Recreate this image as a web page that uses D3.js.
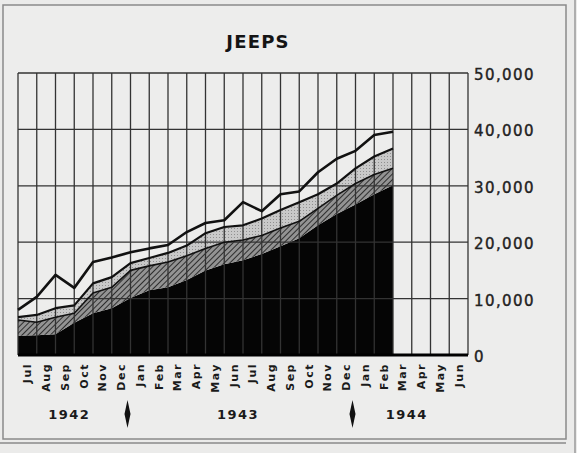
<!DOCTYPE html>
<html>
<head>
<meta charset="utf-8">
<script src="https://cdn.jsdelivr.net/npm/d3@7"></script>
<style>
  body { margin: 0; background: #ebebea; }
  svg { display: block; }
</style>
</head>
<body>
<div id="chart"></div>
<script>
// month categories, Jul 1942 - Jun 1944
var months = ["Jul","Aug","Sep","Oct","Nov","Dec","Jan","Feb","Mar","Apr","May","Jun",
              "Jul","Aug","Sep","Oct","Nov","Dec","Jan","Feb","Mar","Apr","May","Jun"];
var years = ["1942", "1943", "1944"];
var yTicks = [0, 10000, 20000, 30000, 40000, 50000];

// values read at each month line (21 points, start of Jul 1942 .. end of Feb 1944)
var solid   = [3400,3500,3700,5700,7400,8300,10100,11500,12000,13300,15000,16100,16800,17900,19300,20700,23000,25000,26700,28500,30100];
var hatched = [2800,2300,3000,1700,3600,3700,4900,4300,4500,4300,3900,3900,3600,3300,3200,3000,3000,3300,3700,3500,3000];
var dotted  = [500,1300,1600,1400,1700,1800,1300,1400,1600,1800,2700,2700,2600,3000,3200,3400,2500,2100,2700,3200,3500];
var open    = [1300,3200,5900,3100,3800,3500,1900,1700,1400,2400,1800,1200,4100,1300,2800,1900,3900,4400,3100,3800,3000];

var keys = ["solid", "hatched", "dotted", "open"];
var data = solid.map(function(d, i) {
  return {i: i, solid: d, hatched: hatched[i], dotted: dotted[i], open: open[i]};
});

var svg = d3.select("#chart").append("svg").attr("width", 577).attr("height", 453);

var margin = {left: 18, top: 73, right: 109, bottom: 98},
    width = 577 - margin.left - margin.right,
    height = 453 - margin.top - margin.bottom;

var x = d3.scaleLinear().domain([0, months.length]).range([margin.left, margin.left + width]);
var y = d3.scaleLinear().domain([0, 50000]).range([margin.top + height, margin.top]);

var defs = svg.append("defs");
var hp = defs.append("pattern").attr("id", "hatch").attr("patternUnits", "userSpaceOnUse")
    .attr("width", 4).attr("height", 4).attr("patternTransform", "rotate(45)");
hp.append("rect").attr("width", 4).attr("height", 4).attr("fill", "#939393");
hp.append("line").attr("x1", 0).attr("y1", 0).attr("x2", 0).attr("y2", 4)
    .attr("stroke", "#2e2e2e").attr("stroke-width", 2);
var dp = defs.append("pattern").attr("id", "dots").attr("patternUnits", "userSpaceOnUse")
    .attr("width", 3).attr("height", 3);
dp.append("rect").attr("width", 3).attr("height", 3).attr("fill", "#c9c9c9");
dp.append("rect").attr("width", 1).attr("height", 1).attr("fill", "#909090");

// outer frame
svg.append("rect").attr("x", 3).attr("y", 5).attr("width", 563).attr("height", 434)
    .attr("fill", "#ededec").attr("stroke", "#8a8a8a").attr("stroke-width", 1.5);
svg.append("line").attr("x1", 0).attr("x2", 566).attr("y1", 443).attr("y2", 443)
    .attr("stroke", "#8a8a8a").attr("stroke-width", 1.5);
svg.append("line").attr("x1", 575).attr("x2", 575).attr("y1", 0).attr("y2", 453)
    .attr("stroke", "#9a9a9a").attr("stroke-width", 1.5);

svg.append("text").attr("x", 258).attr("y", 48).attr("text-anchor", "middle")
    .attr("font-family", "DejaVu Sans").attr("font-weight", "bold").attr("font-size", 18)
    .attr("letter-spacing", 1.2).attr("fill", "#141414").text("JEEPS");

var stack = d3.stack().keys(keys);
var series = stack(data);
var fills = {solid: "#050505", hatched: "url(#hatch)", dotted: "url(#dots)", open: "none"};

var area = d3.area()
    .x(function(d) { return x(d.data.i); })
    .y0(function(d) { return y(d[0]); })
    .y1(function(d) { return y(d[1]); });

svg.append("g").selectAll("path")
  .data(series.filter(function(s) { return s.key != "open"; }))
  .enter().append("path")
    .attr("d", area)
    .attr("fill", function(s) { return fills[s.key]; });

// grid
var grid = svg.append("g").attr("stroke", "#333").attr("stroke-width", 1.3);
grid.selectAll(".v").data(d3.range(months.length + 1)).enter().append("line")
    .attr("x1", function(d) { return x(d); }).attr("x2", function(d) { return x(d); })
    .attr("y1", y(50000)).attr("y2", y(0));
grid.selectAll(".h").data(yTicks).enter().append("line")
    .attr("x1", x(0)).attr("x2", x(months.length))
    .attr("y1", function(d) { return y(d); }).attr("y2", function(d) { return y(d); });
svg.append("line").attr("x1", x(0)).attr("x2", x(months.length))
    .attr("y1", y(0)).attr("y2", y(0)).attr("stroke", "#000").attr("stroke-width", 3);

// boundary lines
var line = d3.line()
    .x(function(d) { return x(d.data.i); })
    .y(function(d) { return y(d[1]); });
var lineW = {hatched: 1.6, dotted: 2.2, open: 2.6};
svg.append("g").selectAll("path")
  .data(series.filter(function(s) { return s.key != "solid"; }))
  .enter().append("path")
    .attr("d", line)
    .attr("fill", "none")
    .attr("stroke", "#111")
    .attr("stroke-width", function(s) { return lineW[s.key]; })
    .attr("stroke-linejoin", "round");

// y labels on the right
svg.append("g").selectAll("text").data(yTicks).enter().append("text")
    .attr("x", x(months.length) + 6)
    .attr("y", function(d) { return y(d) + 7; })
    .attr("font-family", "DejaVu Sans").attr("font-size", 15).attr("letter-spacing", 1.4)
    .attr("stroke", "#222").attr("stroke-width", 0.4)
    .attr("fill", "#222")
    .text(function(d) { return d3.format(",")(d); });

// month labels
svg.append("g").selectAll("text").data(months).enter().append("text")
    .attr("transform", function(d, i) { return "translate(" + (x(i + 0.5) + 4) + ",363) rotate(-90)"; })
    .attr("text-anchor", "end")
    .attr("font-family", "DejaVu Sans").attr("font-weight", "bold").attr("font-size", 11)
    .attr("letter-spacing", 1.5).attr("fill", "#1a1a1a")
    .text(function(d) { return d; });

// years and dividers
var yearSpan = [[0, 6], [6, 18], [18, 24]];
svg.append("g").selectAll("text").data(years).enter().append("text")
    .attr("x", function(d, i) { return x((yearSpan[i][0] + yearSpan[i][1]) / 2) - 5; })
    .attr("y", 419)
    .attr("text-anchor", "middle")
    .attr("font-family", "DejaVu Sans").attr("font-weight", "bold").attr("font-size", 13)
    .attr("letter-spacing", 1.5)
    .attr("fill", "#1a1a1a")
    .text(function(d) { return d; });

svg.append("g").selectAll("path").data([6, 18]).enter().append("path")
    .attr("d", function(d) {
      var cx = x(d) - 3;
      return "M" + cx + ",400 L" + (cx + 3) + ",414 L" + cx + ",428 L" + (cx - 3) + ",414 Z";
    })
    .attr("fill", "#111");
</script>
</body>
</html>
